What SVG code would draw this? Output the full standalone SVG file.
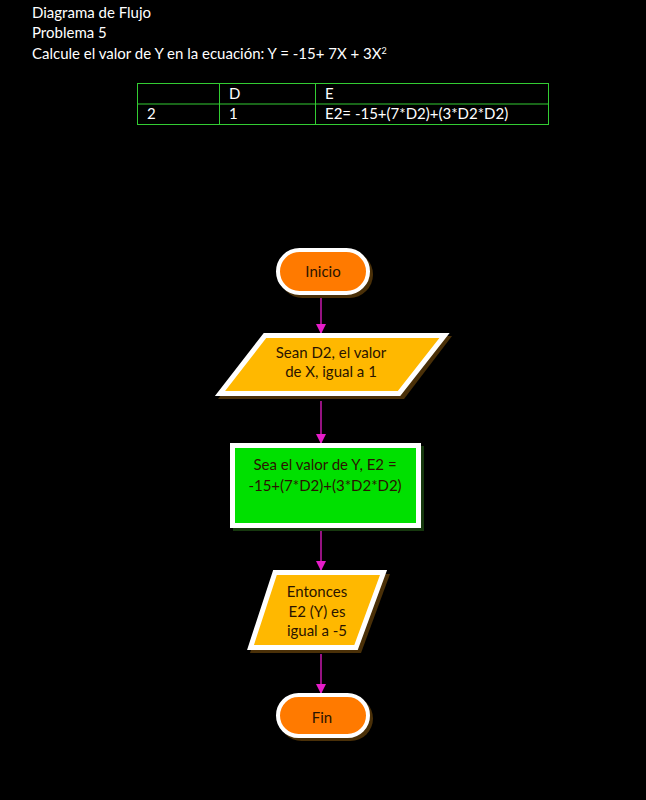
<svg xmlns="http://www.w3.org/2000/svg" width="646" height="800" viewBox="0 0 646 800" style="color-scheme:only light;forced-color-adjust:none">
<defs>
<style>
svg,text,g{forced-color-adjust:none}
.t{font-family:Lato,"Liberation Sans",sans-serif;font-size:15px}
.w{fill:#ffffff}
.d{fill:#2a1400}
.g{fill:none;stroke:#33cc33;stroke-width:1}
.term{fill:#ff7a00;stroke:#ffffff;stroke-width:4}
.par{fill:#ffb800;stroke:#ffffff;stroke-width:5}
.sh{fill:#4a3008}
.conn{stroke:#e61cc8;stroke-width:1.3;fill:none}
</style>
<marker id="ah" markerWidth="10" markerHeight="10" refX="10" refY="5" orient="auto" markerUnits="userSpaceOnUse">
<path d="M0,0 L10,5 L0,10 Z" fill="#e61cc8"/>
</marker>
</defs>
<rect width="646" height="800" fill="#000000"/>
<g id="title" class="t w">
<text x="32" y="18">Diagrama de Flujo</text>
<text x="32" y="38">Problema 5</text>
<text x="32" y="59">Calcule el valor de Y en la ecuación: Y = -15+ 7X + 3X<tspan font-size="9" dy="-5">2</tspan></text>
</g>
<g id="table">
<rect class="g" x="137.5" y="83.5" width="411" height="41"/>
<line class="g" x1="137.5" y1="104" x2="548.5" y2="104"/>
<line class="g" x1="219.5" y1="83.5" x2="219.5" y2="124.5"/>
<line class="g" x1="315.5" y1="83.5" x2="315.5" y2="124.5"/>
<g class="t w">
<text x="229" y="99">D</text>
<text x="325" y="99">E</text>
<text x="147" y="119">2</text>
<text x="229" y="119">1</text>
<text x="325" y="119">E2= -15+(7*D2)+(3*D2*D2)</text>
</g>
</g>
<g id="connectors">
<line class="conn" x1="321" y1="297" x2="321" y2="334" marker-end="url(#ah)"/>
<line class="conn" x1="321" y1="401" x2="321" y2="444" marker-end="url(#ah)"/>
<line class="conn" x1="321" y1="531" x2="321" y2="571" marker-end="url(#ah)"/>
<line class="conn" x1="321" y1="654" x2="321" y2="694" marker-end="url(#ah)"/>
</g>
<g id="inicio">
<rect class="sh" x="279" y="251" width="94" height="47" rx="23.5"/>
<rect class="term" x="278" y="250" width="90" height="43" rx="21.5"/>
<text class="t d" x="323" y="277" text-anchor="middle">Inicio</text>
</g>
<g id="entrada">
<polygon class="sh" points="265,336 452,336 404,399 218,399"/>
<polygon class="par" points="265,335.5 444.5,335.5 399,393.5 220,393.5"/>
<g class="t d" text-anchor="middle">
<text x="331" y="358">Sean D2, el valor</text>
<text x="331" y="377">de X, igual a 1</text>
</g>
</g>
<g id="proceso">
<rect fill="#16380e" x="233" y="446" width="191" height="85"/>
<rect fill="#00e000" stroke="#ffffff" stroke-width="5" x="232.5" y="445.5" width="186" height="80"/>
<g class="t d" text-anchor="middle">
<text x="325" y="470">Sea el valor de Y, E2 =</text>
<text x="325" y="491">-15+(7*D2)+(3*D2*D2)</text>
</g>
</g>
<g id="salida">
<polygon class="sh" points="276,573 390,574 361,653 250,653"/>
<polygon class="par" points="275,572.5 383.5,572.5 356,647.5 250.5,647.5"/>
<g class="t d" text-anchor="middle">
<text x="317" y="597">Entonces</text>
<text x="317" y="617">E2 (Y) es</text>
<text x="317" y="636">igual a -5</text>
</g>
</g>
<g id="fin">
<rect class="sh" x="279" y="696" width="94" height="45" rx="22.5"/>
<rect class="term" x="278" y="695" width="90" height="41" rx="20.5"/>
<text class="t d" x="322" y="723" text-anchor="middle">Fin</text>
</g>
</svg>
